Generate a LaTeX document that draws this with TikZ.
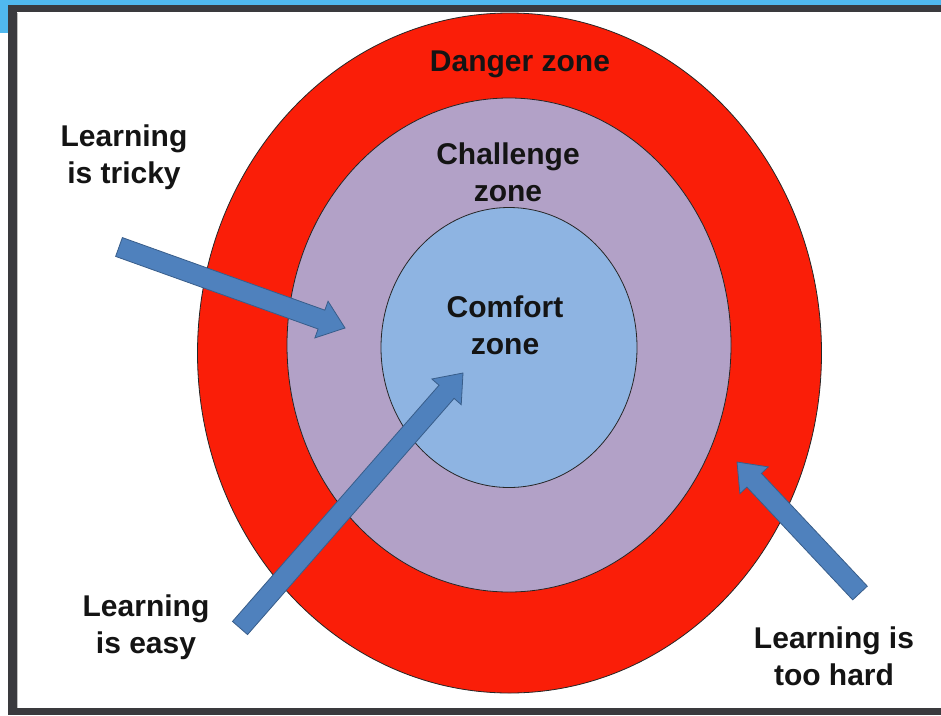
\documentclass[tikz,border=0pt]{standalone}
\usepackage{fontspec}
\setmainfont{Liberation Sans}
\usetikzlibrary{shapes.geometric,calc}
\definecolor{frameblue}{RGB}{80,184,238}
\definecolor{framedark}{RGB}{58,58,62}
\definecolor{dangerred}{RGB}{250,30,8}
\definecolor{challengepurple}{RGB}{178,161,199}
\definecolor{comfortblue}{RGB}{142,180,226}
\definecolor{arrowfill}{RGB}{79,129,189}
\definecolor{arrowline}{RGB}{56,93,138}
\newcommand\blkarrow[2]{%
  \coordinate (hb) at ($(#2)!25pt!(#1)$);
  \draw[blkarrow] ($(#1)!10pt!90:(#2)$) -- ($(hb)!10pt!90:(#2)$) -- ($(hb)!19.5pt!90:(#2)$) -- (#2)
    -- ($(hb)!19.5pt!-90:(#2)$) -- ($(hb)!10pt!-90:(#2)$) -- ($(#1)!10pt!-90:(#2)$) -- cycle;}
\begin{document}
\begin{tikzpicture}[x=1pt,y=-1pt,
  zone/.style={ellipse,draw=black!85,line width=0.8pt,inner sep=0pt,outer sep=0pt},
  lbl/.style={font=\bfseries\fontsize{30}{37}\selectfont,align=center,text=black!92,inner sep=0pt},
  blkarrow/.style={fill=arrowfill,draw=arrowline,line width=0.8pt,line join=miter}]
\useasboundingbox (0,0) rectangle (941,715);
\fill[white] (0,0) rectangle (941,715);
\fill[frameblue] (0,0) rectangle (941,5);
\fill[frameblue] (0,0) rectangle (8,33);
\fill[framedark] (8,5) rectangle (941,12);
\fill[framedark] (8,5) rectangle (17,715);
\fill[framedark] (8,708) rectangle (941,715);
\draw[black!25,line width=0.6pt] (17.5,12.5) -- (17.5,707.5);

\node[zone,fill=dangerred,minimum width=624pt,minimum height=680pt] (danger) at (509.5,353) {};
\node[zone,fill=challengepurple,minimum width=444pt,minimum height=494pt] (challenge) at (509,345) {};
\node[zone,fill=comfortblue,minimum width=256pt,minimum height=280pt] (comfort) at (509,347.5) {};

\node[lbl] (tdanger) at (520,64) {Danger zone};
\node[lbl] (tchallenge) at (508,172) {Challenge\\zone};
\node[lbl] (tcomfort) at (505,325) {Comfort\\zone};
\node[lbl] (ttricky) at (124,157) {Learning\\is tricky};
\node[lbl] (teasy) at (146,627) {Learning\\is easy};
\node[lbl] (thard) at (834,656) {Learning is\\too hard};

\coordinate (a1) at (119,247);
\coordinate (b1) at (345,328);
\coordinate (a2) at (240,628);
\coordinate (b2) at (463,373);
\coordinate (a3) at (860,593);
\coordinate (b3) at (737,462);
\blkarrow{a1}{b1}
\blkarrow{a2}{b2}
\blkarrow{a3}{b3}
\end{tikzpicture}
\end{document}
